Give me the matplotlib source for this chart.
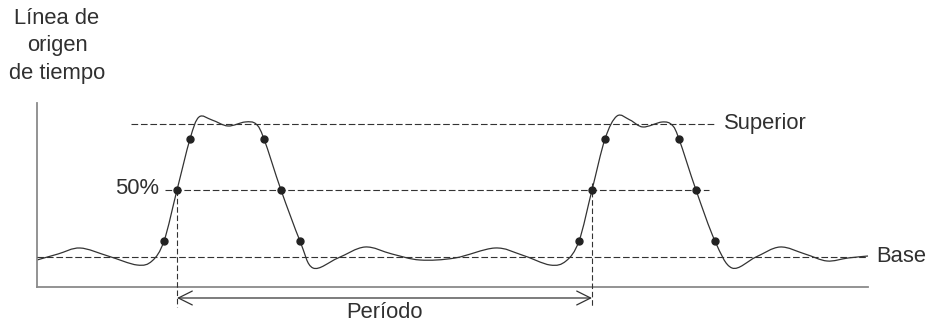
import numpy as np
import matplotlib.pyplot as plt
from matplotlib.path import Path
from matplotlib.patches import PathPatch

# coordenadas (px, y hacia abajo)
wave_x = [37, 58, 80, 108, 137, 152, 164, 177, 190, 199, 212, 228, 245, 256, 264,
          281, 300, 313, 338, 365, 392, 420, 455, 495, 522, 550, 566, 579, 592, 605,
          617, 630, 643, 662, 672, 679, 696, 715, 732, 756, 780, 805, 827, 848, 868]
wave_y = [260, 254, 248, 256, 265, 261, 241, 190, 139, 117, 120, 126, 122, 124, 139,
          190, 241, 268, 258, 247, 254, 260, 258, 248, 255, 265, 261, 241, 190, 139,
          116, 120, 127, 122, 125, 139, 190, 241, 268, 257, 247, 254, 261, 258, 256]

dot_x = [164, 177, 190, 264, 281, 300, 579, 592, 605, 679, 696, 715]
dot_y = [241, 190, 139, 139, 190, 241, 241, 190, 139, 139, 190, 241]

nivel_sup = 124
nivel_50 = 190
nivel_base = 257
periodo = [177, 592]

fig = plt.figure(figsize=(9.35, 3.23), dpi=100)
ax = fig.add_axes([0, 0, 1, 1])
ax.set_xlim(0, 935)
ax.set_ylim(323, 0)
ax.axis('off')

gris = '#333333'
txt = dict(fontsize=15.8, color='#303030', family=['Liberation Sans', 'DejaVu Sans'])

# ejes
ax.plot([37, 37], [103, 287], color='#8a8a8a', lw=1.3)
ax.plot([37, 868], [287, 287], color='#8a8a8a', lw=1.3)

# niveles
ax.plot([131, 715], [nivel_sup, nivel_sup], color=gris, lw=0.8, dashes=(6, 2.5))
ax.plot([165, 709], [nivel_50, nivel_50], color=gris, lw=0.8, dashes=(6, 2.5))
ax.plot([37, 868], [nivel_base, nivel_base], color=gris, lw=0.8, dashes=(6, 2.5))

# verticales del período
ax.plot([periodo[0], periodo[0]], [nivel_50, 307], color=gris, lw=0.8, dashes=(5, 2.5))
ax.plot([periodo[1], periodo[1]], [183, 307], color=gris, lw=0.8, dashes=(5, 2.5))

# forma de onda: curva de Bezier por los puntos leídos
p = np.column_stack([wave_x, wave_y]).astype(float)
verts = [p[0]]
codes = [Path.MOVETO]
for i in range(len(p) - 1):
    a = p[i - 1] if i > 0 else p[i]
    b = p[i + 2] if i + 2 < len(p) else p[i + 1]
    c1 = p[i] + (p[i + 1] - a) / 6
    c2 = p[i + 1] - (b - p[i]) / 6
    verts += [c1, c2, p[i + 1]]
    codes += [Path.CURVE4] * 3
ax.add_patch(PathPatch(Path(verts, codes), fill=False, edgecolor=gris, lw=0.9))

ax.plot(dot_x, dot_y, 'o', color='#222222', ms=5, zorder=5)

# flecha del período
ax.annotate('', xy=(periodo[1], 298), xytext=(periodo[0], 298),
            arrowprops=dict(arrowstyle='<->,head_length=0.5,head_width=0.25',
                            mutation_scale=20, color=gris, lw=0.9,
                            shrinkA=0, shrinkB=0))

ax.text(384, 312, 'Período', ha='center', va='center', **txt)
ax.text(159, 188, '50%', ha='right', va='center', **txt)
ax.text(724, 123, 'Superior', ha='left', va='center', **txt)
ax.text(876, 256, 'Base', ha='left', va='center', **txt)
ax.text(57, 46, 'Línea de\norigen\nde tiempo', ha='center', va='center',
        linespacing=1.4, **txt)

fig.savefig('out.png', dpi=100)
